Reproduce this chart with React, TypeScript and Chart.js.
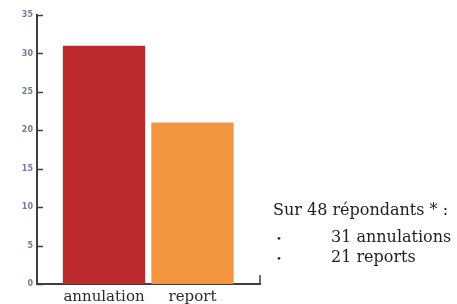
import React, { useEffect, useRef } from "react";
import { Chart, registerables } from "chart.js";

Chart.register(...registerables);

const categories = ["annulation", "report"];
const values = [31, 21];
const barColors = ["#bd2a2e", "#f3943f"];
const yTicks = [0, 5, 10, 15, 20, 25, 30, 35];
const noteTitle = "Sur 48 répondants * :";
const noteItems = ["31 annulations", "21 reports"];

const AXIS = "#3f3f3f";

const inwardTicks = {
  id: "inwardTicks",
  afterDraw(chart: any) {
    const ctx = chart.ctx;
    const y = chart.scales.y;
    const x = chart.scales.x;
    const area = chart.chartArea;
    ctx.save();
    ctx.strokeStyle = AXIS;
    ctx.lineWidth = 1.5;
    yTicks.forEach((v) => {
      const py = Math.round(y.getPixelForValue(v)) + 0.5;
      ctx.beginPath();
      ctx.moveTo(area.left, py);
      ctx.lineTo(area.left + 6, py);
      ctx.stroke();
    });
    const px = x.getPixelForValue(x.max);
    ctx.beginPath();
    ctx.moveTo(px, area.bottom);
    ctx.lineTo(px, area.bottom - 9);
    ctx.stroke();
    ctx.restore();
  },
};

export default function App() {
  const ref = useRef<HTMLCanvasElement>(null);
  useEffect(() => {
    if (!ref.current) return;
    const chart = new Chart(ref.current, {
      type: "bar",
      data: {
        datasets: [
          {
            data: values.map((v, i) => ({ x: i + 1, y: v })),
            backgroundColor: barColors,
            borderWidth: 0,
            barPercentage: 0.93,
            categoryPercentage: 1,
          },
        ],
      },
      options: {
        animation: false,
        responsive: false,
        maintainAspectRatio: false,
        layout: { padding: { left: 0, right: 197, top: 15, bottom: 0 } },
        plugins: { legend: { display: false }, tooltip: { enabled: false } },
        scales: {
          x: {
            type: "linear",
            min: 0.243,
            max: 2.763,
            offset: false,
            afterBuildTicks: (scale: any) => {
              scale.ticks = categories.map((_, i) => ({ value: i + 1 }));
            },
            afterFit: (scale: any) => {
              scale.height = 20;
            },
            grid: { display: false, drawTicks: false },
            border: { display: true, color: AXIS, width: 2 },
            ticks: {
              autoSkip: false,
              maxRotation: 0,
              padding: 4,
              color: "#2a2a2a",
              font: { family: "DejaVu Serif", size: 15 },
              callback: (v: any) => categories[Math.round(Number(v)) - 1] ?? "",
            },
          },
          y: {
            min: 0,
            max: 35,
            afterBuildTicks: (scale: any) => {
              scale.ticks = yTicks.map((v) => ({ value: v }));
            },
            afterFit: (scale: any) => {
              scale.width = 37;
            },
            grid: { display: false, drawTicks: false },
            border: { display: true, color: AXIS, width: 2 },
            ticks: {
              padding: 4,
              color: "#6f7f99",
              font: { family: "DejaVu Sans", size: 8, weight: "bold" },
            },
          },
        },
      },
      plugins: [inwardTicks],
    });
    return () => chart.destroy();
  }, []);

  const textStyle: React.CSSProperties = {
    position: "absolute",
    fontFamily: "'DejaVu Serif', serif",
    fontSize: 16,
    color: "#1e1e1e",
    whiteSpace: "nowrap",
    lineHeight: "20px",
  };

  return (
    <div style={{ position: "absolute", left: 0, top: 0, width: 457, height: 304, background: "#fff", overflow: "hidden" }}>
      <canvas ref={ref} width={457} height={304} style={{ position: "absolute", left: 0, top: 0 }} />
      <div style={{ ...textStyle, left: 273, top: 200 }}>{noteTitle}</div>
      {noteItems.map((t, i) => (
        <React.Fragment key={t}>
          <div style={{ ...textStyle, left: 276, top: 233 + i * 20, fontSize: 10, lineHeight: "12px" }}>•</div>
          <div style={{ ...textStyle, left: 331, top: 227 + i * 20 }}>{t}</div>
        </React.Fragment>
      ))}
    </div>
  );
}
